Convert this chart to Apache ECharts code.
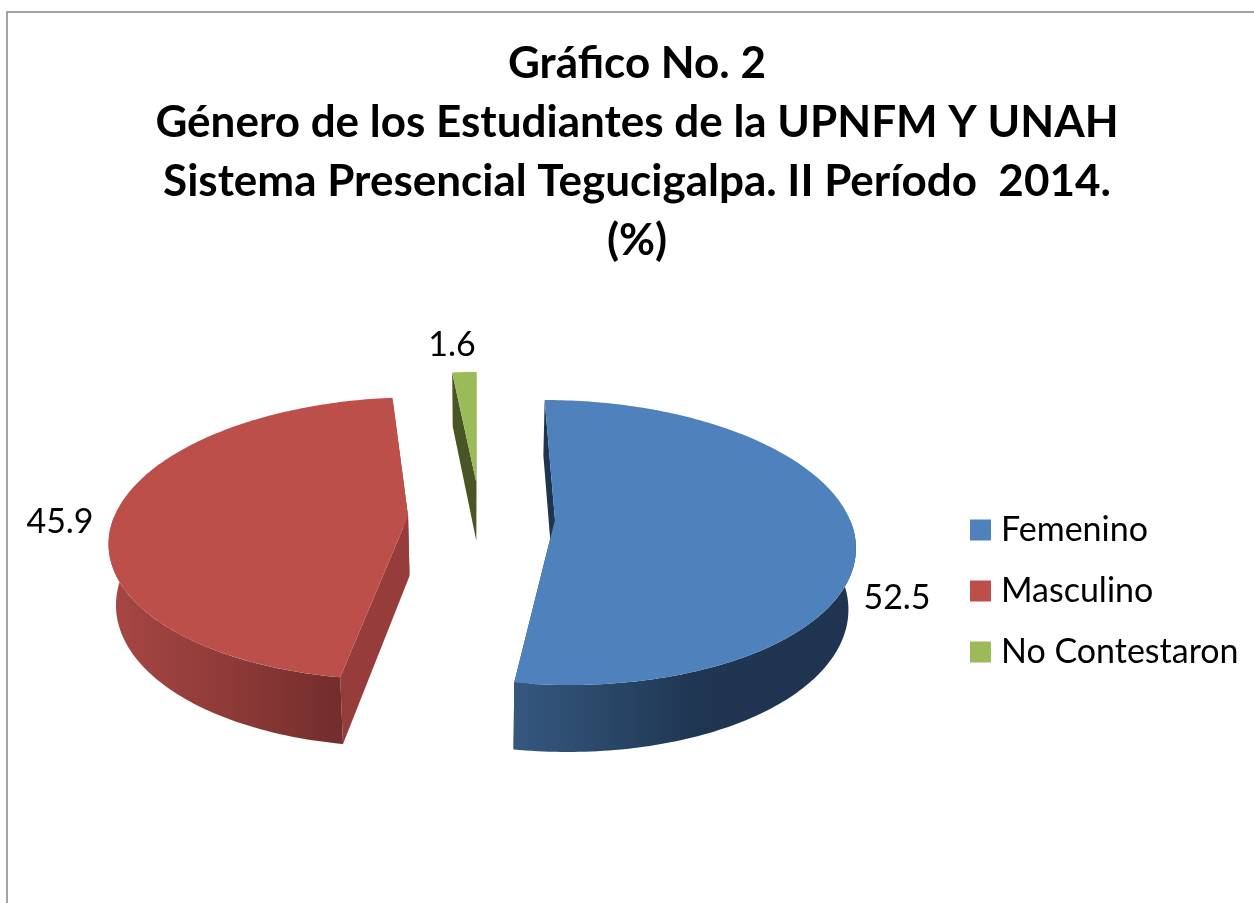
<!DOCTYPE html>
<html>
<head>
<meta charset="utf-8">
<title>Gráfico No. 2</title>
<script src="https://cdn.jsdelivr.net/npm/echarts@6/dist/echarts.min.js"></script>
<style>
  html, body { margin: 0; padding: 0; background: #fff; }
</style>
</head>
<body>
<div id="main" style="width: 1254px;height:903px;"></div>
<script>
const titleLines = [
  'Gráfico No. 2',
  'Género de los Estudiantes de la UPNFM Y UNAH',
  'Sistema Presencial Tegucigalpa. II Período  2014.',
  '(%)'
]
const categories = ['Femenino', 'Masculino', 'No Contestaron']
const values = [52.5, 45.9, 1.6]

const topColors = ['#4f81bd', '#bd4f4b', '#9bbb59']
const radialColors = ['#1e3450', '#963d3b', '#4a5526']
const wallStops = [
  [[0, '#35587f'], [0.55, '#1f3551'], [1, '#1e3450']],
  [[0, '#a74744'], [0.5, '#8f3b39'], [1, '#722d2c']],
  [[0, '#4a5526'], [1, '#4a5526']]
]
// how far each slice is pulled out, in radii
const explode = [0.255, 0.245, 0.262]
// value label anchors in pixels
const labelPos = [[897, 598], [60, 522], [452, 345]]

// fake 3d: flat disc seen from above with a bit of perspective
const cx = 480
const cy = 517
const rx = 294
const ry = 138
const persp = 0.159
const depth = 60
const shrink = 0.98

function project (gx, gy, lower) {
  const s = 1 / (1 - persp * gy)
  const k = lower ? shrink : 1
  const drop = lower ? depth * (1 + 0.6 * (s - 1)) : 0
  return [cx + rx * gx * s * k, cy + ry * gy * s + drop]
}

function renderSlice (params, api) {
  const i = params.seriesIndex
  const total = values.reduce((a, b) => a + b, 0)
  const before = values.slice(0, i).reduce((a, b) => a + b, 0)
  const a0 = before / total * 360
  const a1 = a0 + api.value(0) / total * 360
  const mid = (a0 + a1) / 2 * Math.PI / 180
  const ox = Math.sin(mid) * explode[i]
  const oy = -Math.cos(mid) * explode[i]
  const rim = function (deg, lower) {
    const t = deg * Math.PI / 180
    return project(ox + Math.sin(t), oy - Math.cos(t), lower)
  }
  const apex = function (lower) {
    return project(ox, oy, lower)
  }

  const arc = function (from, to, lower) {
    const pts = []
    const n = Math.max(2, Math.ceil(Math.abs(to - from)))
    for (let j = 0; j <= n; j++) {
      pts.push(rim(from + (to - from) * j / n, lower))
    }
    return pts
  }

  const children = []
  const radial = function (deg) {
    children.push({
      type: 'polygon',
      shape: { points: [apex(false), rim(deg, false), rim(deg, true), apex(true)] },
      style: { fill: radialColors[i] }
    })
  }
  radial(a0)
  radial(a1)

  // outer wall, only the part that faces the viewer
  const w0 = Math.max(a0, 90)
  const w1 = Math.min(a1, 270)
  if (w1 > w0) {
    children.push({
      type: 'polygon',
      shape: { points: arc(w0, w1, false).concat(arc(w1, w0, true)) },
      style: {
        fill: new echarts.graphic.LinearGradient(0, 0, 1, 0, wallStops[i].map(function (s) {
          return { offset: s[0], color: s[1] }
        }))
      }
    })
  }

  children.push({
    type: 'polygon',
    shape: { points: [apex(false)].concat(arc(a0, a1, false)) },
    style: { fill: topColors[i] }
  })

  children.push({
    type: 'text',
    style: {
      x: labelPos[i][0],
      y: labelPos[i][1],
      text: api.value(0).toFixed(1),
      fill: '#000',
      font: '34px Lato',
      align: 'center',
      verticalAlign: 'middle'
    }
  })
  return { type: 'group', children: children }
}

const myChart = echarts.init(document.getElementById('main'))
const option = {
  animation: false,
  backgroundColor: '#fff',
  title: {
    text: titleLines.join('\n'),
    left: 632,
    top: 29,
    textAlign: 'center',
    textStyle: {
      fontFamily: 'Lato',
      fontWeight: 'bold',
      fontSize: 44,
      lineHeight: 59,
      color: '#000'
    }
  },
  legend: {
    orient: 'vertical',
    left: 965,
    top: 508,
    icon: 'rect',
    itemWidth: 21,
    itemHeight: 21,
    itemGap: 27,
    selectedMode: false,
    data: categories,
    textStyle: {
      fontFamily: 'Lato',
      fontSize: 34,
      color: '#000',
      lineHeight: 32,
      padding: [0, 0, 0, 5]
    }
  },
  graphic: [
    {
      type: 'polyline',
      silent: true,
      shape: { points: [[1254, 12], [7, 12], [7, 903]] },
      style: { stroke: '#868686', lineWidth: 1.5, fill: null }
    }
  ],
  series: categories.map(function (name, i) {
    return {
      type: 'custom',
      name: name,
      coordinateSystem: 'none',
      silent: true,
      itemStyle: { color: topColors[i] },
      renderItem: renderSlice,
      data: [[values[i]]]
    }
  })
}
myChart.setOption(option)
</script>
</body>
</html>
